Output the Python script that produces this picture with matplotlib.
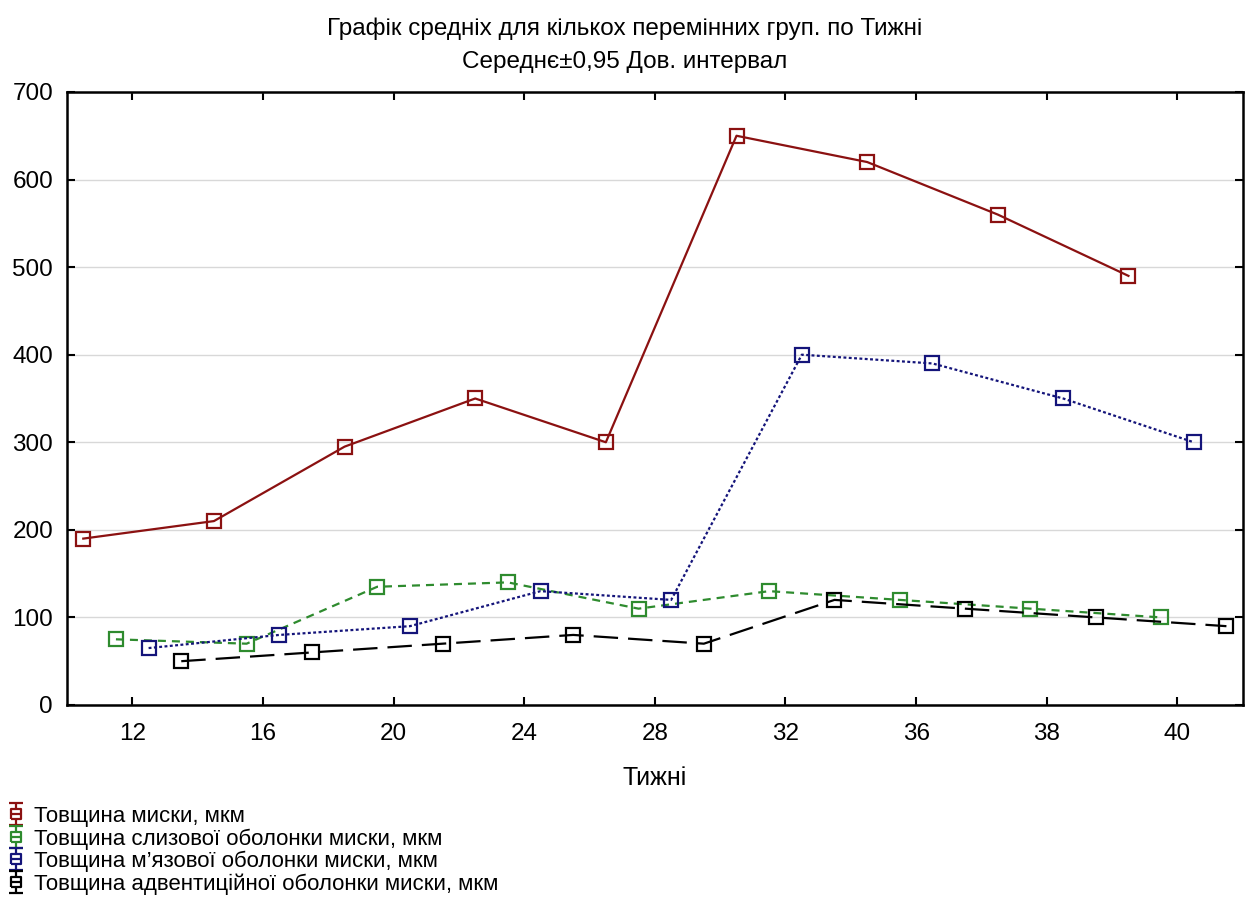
import matplotlib
matplotlib.use("Agg")
import matplotlib.pyplot as plt
from matplotlib.lines import Line2D
from matplotlib.path import Path
import numpy as np

plt.rcParams['font.family'] = ['Liberation Sans', 'DejaVu Sans']

weeks = ["12", "16", "20", "24", "28", "32", "36", "38", "40"]
series_names = [
    "Товщина миски, мкм",
    "Товщина слизової оболонки миски, мкм",
    "Товщина м’язової оболонки миски, мкм",
    "Товщина адвентиційної оболонки миски, мкм",
]
total = [190, 210, 295, 350, 300, 650, 620, 560, 490]
mucosa = [75, 70, 135, 140, 110, 130, 120, 110, 100]
muscle = [65, 80, 90, 130, 120, 400, 390, 350, 300]
adventitia = [50, 60, 70, 80, 70, 120, 110, 100, 90]
values = [total, mucosa, muscle, adventitia]

colors = ["#8b1111", "#2e8b2e", "#14147a", "#000000"]
linestyles = ["-", (0, (3.6, 2.7)), (0, (1.3, 1.1)), (0, (11, 4.5))]
offsets = [-0.375, -0.125, 0.125, 0.375]

# legend glyph: mean square with +-CI whiskers and caps
s, cw = 0.42, 0.6
glyph_verts = [(0, s), (0, 1), (-cw, 1), (cw, 1),
               (0, -s), (0, -1), (-cw, -1), (cw, -1),
               (-s, -s), (s, -s), (s, s), (-s, s), (-s, -s),
               (-s, 0), (s, 0)]
glyph_codes = [Path.MOVETO, Path.LINETO, Path.MOVETO, Path.LINETO,
               Path.MOVETO, Path.LINETO, Path.MOVETO, Path.LINETO,
               Path.MOVETO, Path.LINETO, Path.LINETO, Path.LINETO, Path.LINETO,
               Path.MOVETO, Path.LINETO]
glyph = Path(glyph_verts, glyph_codes)

fig = plt.figure(figsize=(12.49, 9.17), dpi=100)
ax = fig.add_axes([0.0536, 0.2312, 0.9414, 0.6685])

x = np.arange(len(weeks))
handles = []
for vals, c, ls, off, name in zip(values, colors, linestyles, offsets, series_names):
    ax.plot(x + off, vals, color=c, linestyle=ls, linewidth=1.6,
            marker="s", markersize=9.5, markerfacecolor="none",
            markeredgecolor=c, markeredgewidth=1.6, zorder=3)
    handles.append(Line2D([], [], linestyle="none", marker=glyph,
                          markersize=16.5, markerfacecolor="none",
                          markeredgecolor=c, markeredgewidth=1.6, label=name))

ax.set_xlim(-0.5, len(weeks) - 0.5)
ax.set_ylim(0, 700)
ax.set_xticks(x)
ax.set_xticklabels(weeks)
ax.set_yticks(np.arange(0, 701, 100))
ax.tick_params(direction="in", top=True, right=True, length=6, width=1.5,
               labelsize=17.5)
ax.tick_params(axis="y", pad=10)
ax.tick_params(axis="x", pad=13)
for sp in ax.spines.values():
    sp.set_linewidth(1.8)
ax.yaxis.grid(True, color="#d8d8d8", linewidth=1)
ax.set_axisbelow(True)

ax.set_xlabel("Тижні", fontsize=18, labelpad=15)
fig.text(0.5, 0.969, "Графік средніх для кількох перемінних груп. по Тижні",
         ha="center", va="center", fontsize=17.5)
fig.text(0.5, 0.932, "Середнє±0,95 Дов. интервал",
         ha="center", va="center", fontsize=17.5)

fig.legend(handles=handles, loc="lower left", bbox_to_anchor=(0.0, 0.016),
           frameon=False, fontsize=16, handlelength=0.75, handletextpad=0.45,
           labelspacing=0.05, borderaxespad=0.0, borderpad=0.35)

fig.savefig("out.png", dpi=100)
